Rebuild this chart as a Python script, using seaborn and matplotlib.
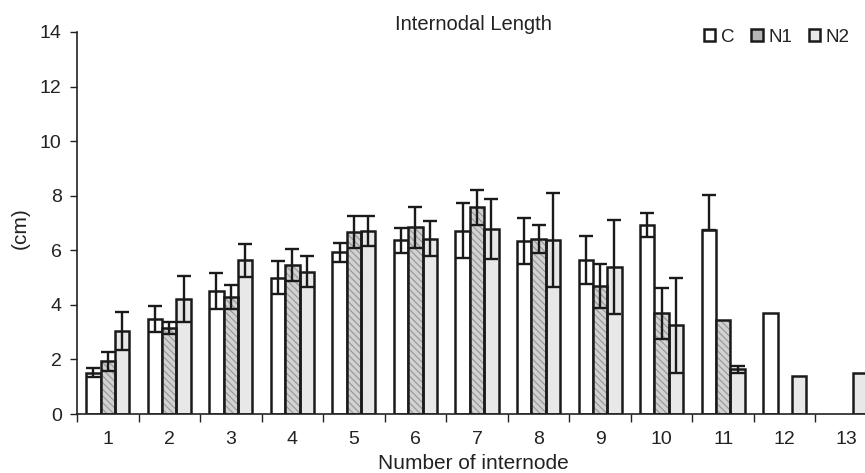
import numpy as np
import pandas as pd
import matplotlib
matplotlib.use("Agg")
import matplotlib.pyplot as plt
from matplotlib.patches import Patch, Rectangle
import seaborn as sns

nan = np.nan
internodes = ["1", "2", "3", "4", "5", "6", "7", "8", "9", "10", "11", "12", "13"]
treatments = ["C", "N1", "N2"]

C_vals = [1.52, 3.47, 4.50, 5.00, 5.92, 6.36, 6.72, 6.35, 5.65, 6.92, 6.75, 3.69, nan]
C_err_hi = [0.18, 0.47, 0.65, 0.62, 0.36, 0.45, 1.00, 0.85, 0.88, 0.43, 1.26, nan, nan]
C_err_lo = [0.18, 0.47, 0.65, 0.62, 0.36, 0.45, 1.00, 0.85, 0.88, 0.43, 0.00, nan, nan]

N1_vals = [1.94, 3.15, 4.28, 5.47, 6.67, 6.84, 7.57, 6.41, 4.70, 3.69, 3.45, nan, nan]
N1_err = [0.35, 0.23, 0.45, 0.58, 0.58, 0.76, 0.63, 0.50, 0.80, 0.93, nan, nan, nan]

N2_vals = [3.05, 4.21, 5.63, 5.22, 6.72, 6.43, 6.78, 6.39, 5.38, 3.25, 1.64, 1.41, 1.52]
N2_err = [0.70, 0.83, 0.60, 0.57, 0.55, 0.65, 1.10, 1.72, 1.73, 1.74, 0.13, nan, nan]

y_ticks = [0, 2, 4, 6, 8, 10, 12, 14]

values = {"C": C_vals, "N1": N1_vals, "N2": N2_vals}
err_lo = {"C": C_err_lo, "N1": N1_err, "N2": N2_err}
err_hi = {"C": C_err_hi, "N1": N1_err, "N2": N2_err}

rows = []
for t in treatments:
    for lab, v in zip(internodes, values[t]):
        if not np.isnan(v):
            rows.append({"internode": lab, "length": v, "treatment": t})
df = pd.DataFrame(rows)

sns.set_style("ticks")
plt.rcParams["font.family"] = ["Liberation Sans", "DejaVu Sans"]
plt.rcParams["text.color"] = "#222222"
plt.rcParams["hatch.linewidth"] = 0.9

W, H = 865, 473
fig = plt.figure(figsize=(W / 100, H / 100), dpi=100)
ax = fig.add_axes([77 / W, (H - 414) / H, 800 / W, 382 / H])

colors = {"C": "#ffffff", "N1": "#d2d2d2", "N2": "#e8e8e8"}
sns.barplot(data=df, x="internode", y="length", hue="treatment",
            order=internodes, hue_order=treatments, palette=colors,
            saturation=1, width=0.7, errorbar=None, edgecolor="#1a1a1a",
            linewidth=1.8, legend=False, ax=ax)

# hatch for N1 with gray lines, black outline on top
for bar in ax.containers[1]:
    bar.set_hatch("\\\\\\\\\\")
    bar.set_edgecolor("#9a9a9a")
    bar.set_linewidth(0)
    ax.add_patch(Rectangle(bar.get_xy(), bar.get_width(), bar.get_height(),
                           fill=False, edgecolor="#1a1a1a", linewidth=1.8, zorder=3))

# error bars
for t, cont in zip(treatments, ax.containers):
    for bar in cont:
        xc = bar.get_x() + bar.get_width() / 2
        idx = int(round(xc))
        lo, hi = err_lo[t][idx], err_hi[t][idx]
        if np.isnan(hi):
            continue
        ax.errorbar(xc, bar.get_height(), yerr=[[lo], [hi]], fmt="none",
                    ecolor="#1a1a1a", elinewidth=1.7, capsize=5, capthick=1.7,
                    zorder=5)

ax.set_xlim(-0.5, 12.5)
ax.set_ylim(0, 14)
ax.set_yticks(y_ticks)
ax.set_yticklabels([str(v) for v in y_ticks])
ax.set_xticks(np.arange(-0.5, 13.0, 1.0))
ax.set_xticklabels([])
ax.set_xticks(np.arange(13), minor=True)
ax.set_xticklabels(internodes, minor=True)
ax.tick_params(axis="x", which="major", length=6, width=1, direction="out", color="#222222")
ax.tick_params(axis="x", which="minor", length=0, pad=12, labelsize=14, labelcolor="#222222")
ax.tick_params(axis="y", length=5, width=1, direction="out", pad=6, labelsize=14,
               labelcolor="#222222", color="#222222")
ax.set_xlabel("")
ax.set_ylabel("")
for s in ["top", "right"]:
    ax.spines[s].set_visible(False)
for s in ["left", "bottom"]:
    ax.spines[s].set_linewidth(1.2)
    ax.spines[s].set_color("#222222")

fig.text(473 / W, 1 - 24 / H, "Internodal Length", ha="center", va="center", fontsize=14.5)
fig.text(473 / W, 1 - 463 / H, "Number of internode", ha="center", va="center", fontsize=15)
fig.text(20 / W, 1 - 228 / H, "(cm)", ha="center", va="center", rotation=90, fontsize=15)

handles = [Patch(facecolor=colors["C"], edgecolor="#1a1a1a", linewidth=1.8, label="C"),
           Patch(facecolor="#b5b5b5", edgecolor="#1a1a1a", linewidth=1.8, label="N1"),
           Patch(facecolor=colors["N2"], edgecolor="#1a1a1a", linewidth=1.8, label="N2")]
fig.legend(handles=handles, loc="center left", bbox_to_anchor=(704 / W, 1 - 37 / H),
           ncol=3, frameon=False, fontsize=13.5, handlelength=0.6, handleheight=0.6,
           handletextpad=0.3, columnspacing=0.9, borderpad=0, borderaxespad=0)

fig.savefig("out.png", dpi=100)
